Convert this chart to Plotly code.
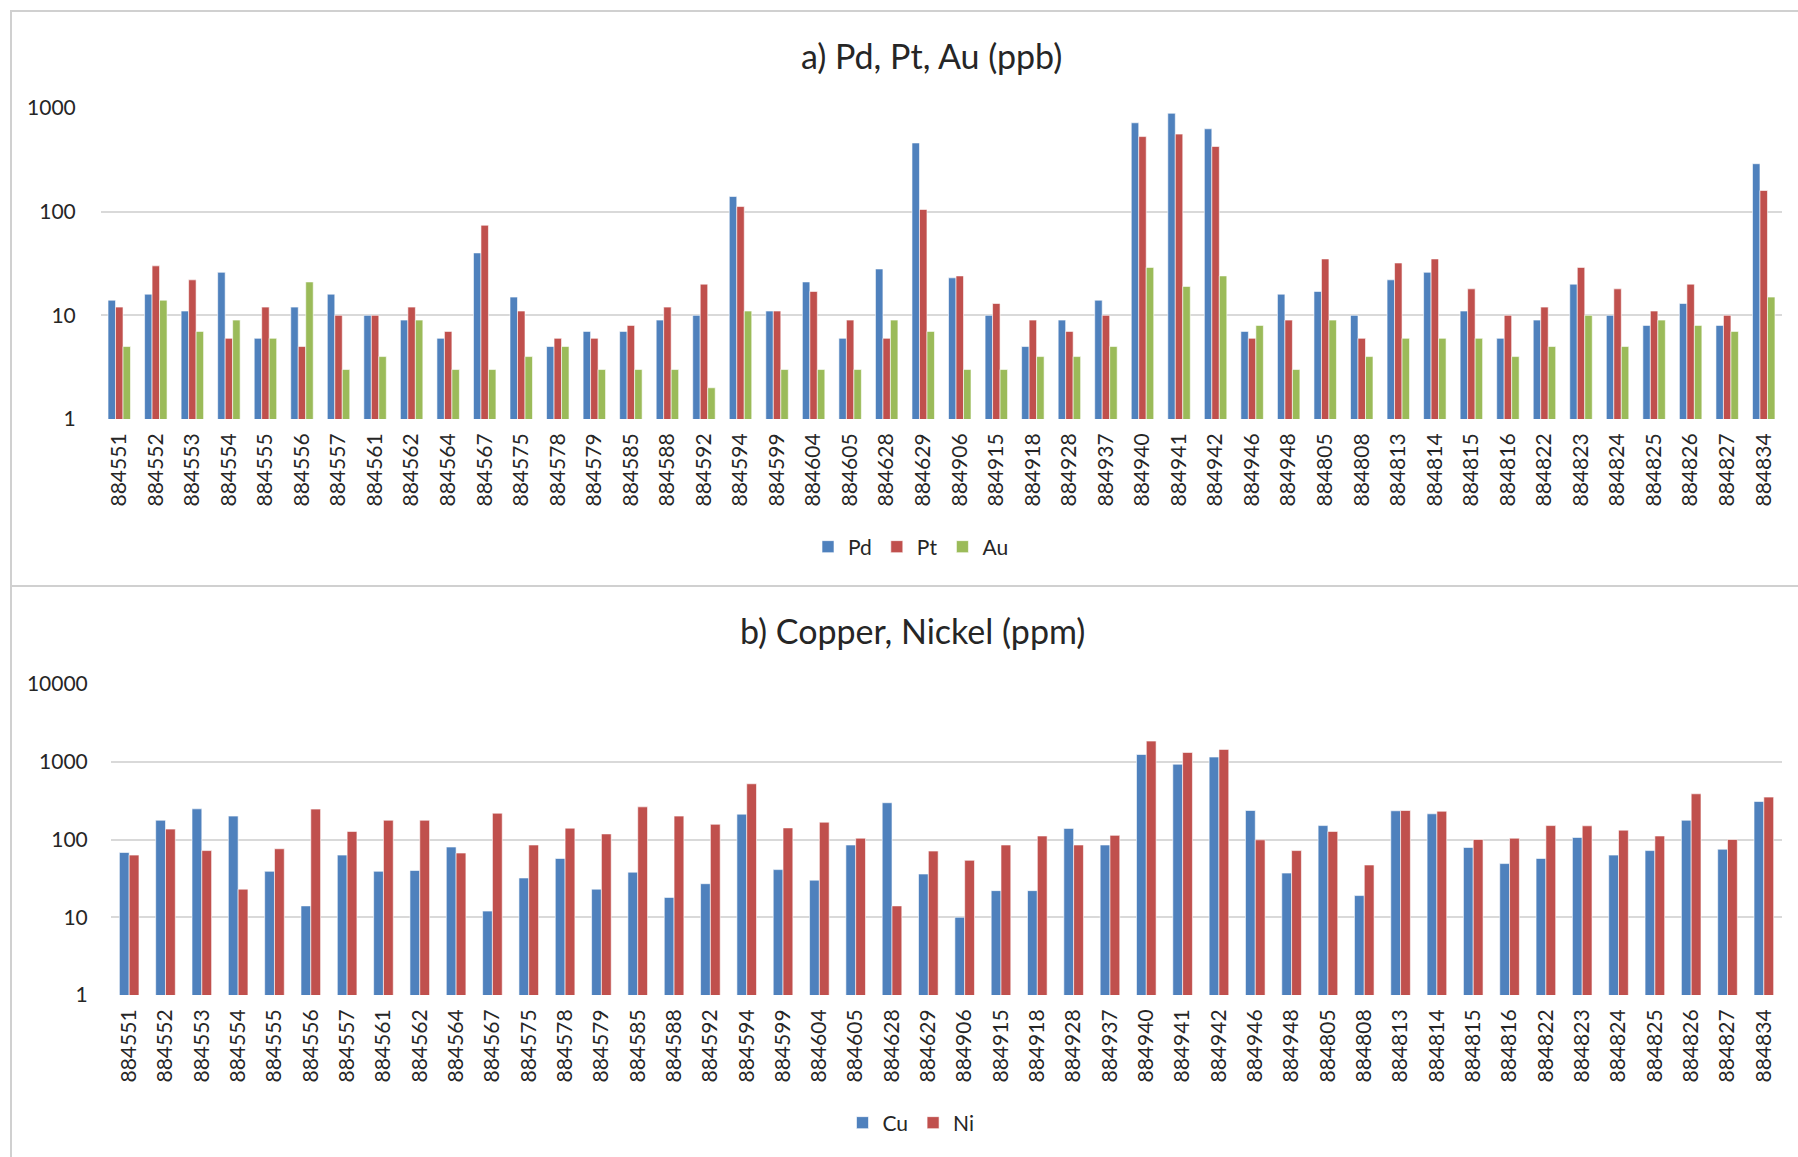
import plotly.graph_objects as go

# Sample identifiers (shared by both panels)
samples = ["884551", "884552", "884553", "884554", "884555", "884556", "884557",
           "884561", "884562", "884564", "884567", "884575", "884578", "884579",
           "884585", "884588", "884592", "884594", "884599", "884604", "884605",
           "884628", "884629", "884906", "884915", "884918", "884928", "884937",
           "884940", "884941", "884942", "884946", "884948", "884805", "884808",
           "884813", "884814", "884815", "884816", "884822", "884823", "884824",
           "884825", "884826", "884827", "884834"]

# Precious metals (ppb)
pd_ppb = [14, 16, 11, 26, 6, 12, 16, 10, 9, 6, 40, 15, 5, 7, 7, 9, 10, 140, 11, 21,
          6, 28, 460, 23, 10, 5, 9, 14, 720, 890, 630, 7, 16, 17, 10, 22, 26, 11,
          6, 9, 20, 10, 8, 13, 8, 290]
pt_ppb = [12, 30, 22, 6, 12, 5, 10, 10, 12, 7, 74, 11, 6, 6, 8, 12, 20, 112, 11, 17,
          9, 6, 105, 24, 13, 9, 7, 10, 530, 560, 425, 6, 9, 35, 6, 32, 35, 18,
          10, 12, 29, 18, 11, 20, 10, 160]
au_ppb = [5, 14, 7, 9, 6, 21, 3, 4, 9, 3, 3, 4, 5, 3, 3, 3, 2, 11, 3, 3,
          3, 9, 7, 3, 3, 4, 4, 5, 29, 19, 24, 8, 3, 9, 4, 6, 6, 6,
          4, 5, 10, 5, 9, 8, 7, 15]

# Base metals (ppm)
cu_ppm = [68, 177, 248, 200, 39, 14, 63, 39, 40, 80, 12, 32, 57, 23, 38, 18, 27, 212,
          41, 30, 85, 297, 36, 10, 22, 22, 139, 85, 1240, 930, 1150, 236, 37, 151,
          19, 234, 214, 79, 49, 57, 106, 63, 72, 177, 75, 308]
ni_ppm = [63, 136, 72, 23, 76, 246, 127, 177, 177, 67, 218, 85, 140, 118, 263, 200,
          157, 521, 141, 167, 104, 14, 71, 54, 85, 111, 85, 113, 1845, 1318, 1442,
          99, 72, 127, 47, 236, 231, 100, 104, 151, 150, 132, 111, 387, 100, 351]

BLUE, RED, GREEN = "#4F81BD", "#C0504D", "#9BBB59"
FONT = "Lato"
TXT = "#262626"
GRID = "#D9D9D9"

W, H = 1798, 1157


def px_x(p):
    return p / W


def px_y(p):
    return 1 - p / H


fig = go.Figure()

# Panel a: three bars per sample
w3 = 0.205
for name, vals, col, off in [("Pd", pd_ppb, BLUE, -1.5 * w3),
                             ("Pt", pt_ppb, RED, -0.5 * w3),
                             ("Au", au_ppb, GREEN, 0.5 * w3)]:
    fig.add_trace(go.Bar(x=samples, y=vals, name=name, marker_color=col,
                         marker_line=dict(color="rgba(255,255,255,0.6)", width=1),
                         width=w3, offset=off, xaxis="x", yaxis="y",
                         legend="legend"))

# Panel b: two bars per sample
w2 = 0.27
for name, vals, col, off in [("Cu", cu_ppm, BLUE, -w2),
                             ("Ni", ni_ppm, RED, 0.0)]:
    fig.add_trace(go.Bar(x=samples, y=vals, name=name, marker_color=col,
                         marker_line=dict(color="rgba(255,255,255,0.6)", width=1),
                         width=w2, offset=off, xaxis="x2", yaxis="y2",
                         legend="legend2"))

xcommon = dict(type="category", tickangle=-90, showgrid=False, showline=False,
               ticks="outside", ticklen=5, tickcolor="rgba(0,0,0,0)",
               automargin=False,
               tickfont=dict(family=FONT, size=21, color=TXT), fixedrange=True)
ycommon = dict(type="log", showgrid=True, gridcolor=GRID, gridwidth=1.5,
               showline=False, zeroline=False, ticks="outside",
               tickcolor="rgba(0,0,0,0)", automargin=False,
               tickfont=dict(family=FONT, size=21, color=TXT), fixedrange=True)

legend_common = dict(orientation="h", xanchor="center", yanchor="middle",
                     font=dict(family=FONT, size=21, color=TXT),
                     itemwidth=30, traceorder="normal")

fig.update_layout(
    width=W, height=H,
    margin=dict(l=0, r=0, t=0, b=0, autoexpand=False),
    paper_bgcolor="white", plot_bgcolor="white",
    barmode="overlay",
    showlegend=True,
    xaxis=dict(domain=[px_x(101), px_x(1782)], anchor="y", **xcommon),
    yaxis=dict(domain=[px_y(419), px_y(108)], anchor="x", range=[0, 3],
               tickvals=[1, 10, 100, 1000], ticktext=["1", "10", "100", "1000"],
               ticklen=20, **ycommon),
    xaxis2=dict(domain=[px_x(111), px_x(1782)], anchor="y2", **xcommon),
    yaxis2=dict(domain=[px_y(995), px_y(684)], anchor="x2", range=[0, 4],
                tickvals=[1, 10, 100, 1000, 10000],
                ticktext=["1", "10", "100", "1000", "10000"], ticklen=18,
                **ycommon),
    legend=dict(x=px_x(911), y=px_y(547), **legend_common),
    legend2=dict(x=px_x(911), y=px_y(1123), **legend_common),
    annotations=[
        dict(text="a) Pd, Pt, Au (ppb)", x=px_x(931), y=px_y(55), xref="paper",
             yref="paper", showarrow=False, xanchor="center", yanchor="middle",
             font=dict(family=FONT, size=34, color=TXT)),
        dict(text="b) Copper, Nickel (ppm)", x=px_x(912), y=px_y(630),
             xref="paper", yref="paper", showarrow=False, xanchor="center",
             yanchor="middle", font=dict(family=FONT, size=34, color=TXT)),
    ],
    shapes=[
        dict(type="rect", xref="paper", yref="paper", x0=px_x(11), x1=1.01,
             y0=px_y(586), y1=px_y(11), line=dict(color="#D0D0D0", width=2)),
        dict(type="rect", xref="paper", yref="paper", x0=px_x(11), x1=1.01,
             y0=-0.01, y1=px_y(586), line=dict(color="#D0D0D0", width=2)),
    ],
)

fig.write_html("out.html")
